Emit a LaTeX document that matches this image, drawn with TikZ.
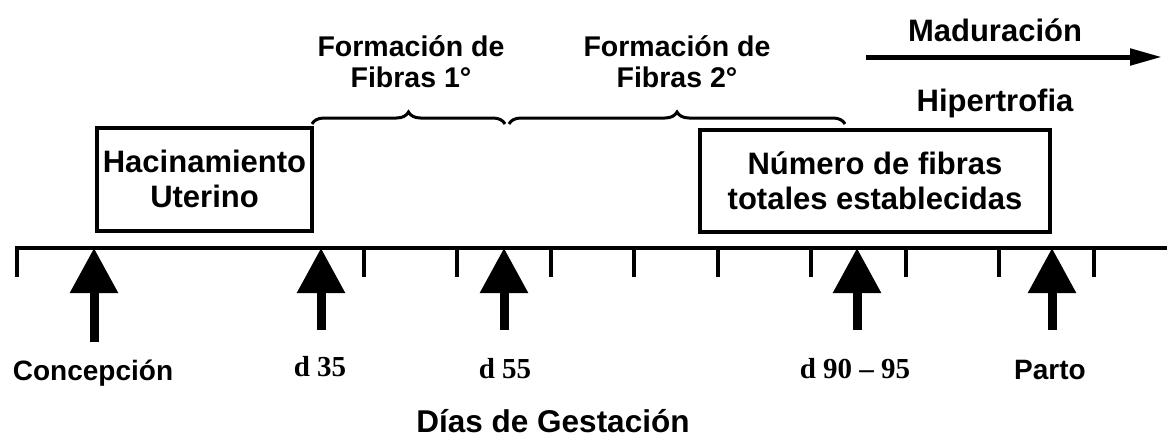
\documentclass[tikz,border=0pt]{standalone}
\usepackage{fontspec}
\setmainfont{Liberation Sans}
\newfontfamily\serifb{Liberation Serif}
\usetikzlibrary{arrows.meta,decorations.pathreplacing}

\begin{document}
\begin{tikzpicture}[x=1pt, y=-1pt,
caja/.style={draw, line width=4pt, align=center, inner sep=0pt, font=\fontsize{31}{35}\selectfont\bfseries},
etiq/.style={align=center, font=\fontsize{28}{31}\selectfont\bfseries},
dia/.style={font=\fontsize{29}{33}\selectfont\serifb\bfseries},
flecha/.style={line width=9pt, -{Triangle[width=46pt,length=45pt]}},
llave/.style={decorate, decoration={brace, amplitude=12pt}, line width=3pt}]
\useasboundingbox (0,0) rectangle (1167,439);
% eje de tiempo
\coordinate (inicio) at (17,248);
\coordinate (fin) at (1167,248);
\draw[line width=4pt] ([xshift=-2pt]inicio) -- (fin);
\foreach \x in {17,364,457,551,634,718,811,906,999,1094}
  \draw[line width=4pt] (\x,248) -- (\x,277);
% puntos del eje
\coordinate (conc) at (94,248);
\coordinate (d35) at (321,248);
\coordinate (d55) at (504,248);
\coordinate (d90) at (857,248);
\coordinate (parto) at (1052,248);
\coordinate (conc-b) at (94,342);
\coordinate (d35-b) at (321,330);
\coordinate (d55-b) at (504,330);
\coordinate (d90-b) at (857,330);
\coordinate (parto-b) at (1052,330);
\draw[flecha] (conc-b) -- (conc);
\draw[flecha] (d35-b) -- (d35);
\draw[flecha] (d55-b) -- (d55);
\draw[flecha] (d90-b) -- (d90);
\draw[flecha] (parto-b) -- (parto);
 \node[etiq] (concl) at (93,373) {Concepción};
 \node[dia] (d35l) at (320,367) {d 35};
 \node[dia] (d55l) at (505,369) {d 55};
 \node[dia] (d90l) at (855,369) {d 90 – 95};
 \node[etiq] (partol) at (1050,370) {Parto};
 \node[etiq, font=\fontsize{31.5}{35}\selectfont\bfseries] (dias) at (553,421) {Días de Gestación};
% cajas
\node[caja, minimum width=215pt, minimum height=103pt] (hacin) at (204.5,179) {Hacinamiento\\Uterino};
\node[caja, minimum width=350pt, minimum height=102pt] (numero) at (875,181) {Número de fibras\\totales establecidas};
% llaves
\coordinate (ll1a) at (312,124);
\coordinate (ll1b) at (505,124);
\coordinate (ll2a) at (509,124);
\coordinate (ll2b) at (845,124);
\draw[llave] (ll1a) -- (ll1b);
\draw[llave] (ll2a) -- (ll2b);
 \node[etiq, font=\fontsize{28.5}{31}\selectfont\bfseries] (fib1) at (411,62) {Formación de\\Fibras 1°};
 \node[etiq, font=\fontsize{28.5}{31}\selectfont\bfseries] (fib2) at (677,62) {Formación de\\Fibras 2°};
% maduracion
\coordinate (mad-a) at (866,57);
\coordinate (mad-b) at (1162,57);
\draw[line width=5pt, -{Triangle[width=16pt,length=32pt]}] (mad-a) -- (mad-b);
 \node[etiq, font=\fontsize{31}{35}\selectfont\bfseries] (madur) at (995,30) {Maduración};
 \node[etiq, font=\fontsize{31}{35}\selectfont\bfseries] (hiper) at (995,103) {Hipertrofia};
\end{tikzpicture}
\end{document}
